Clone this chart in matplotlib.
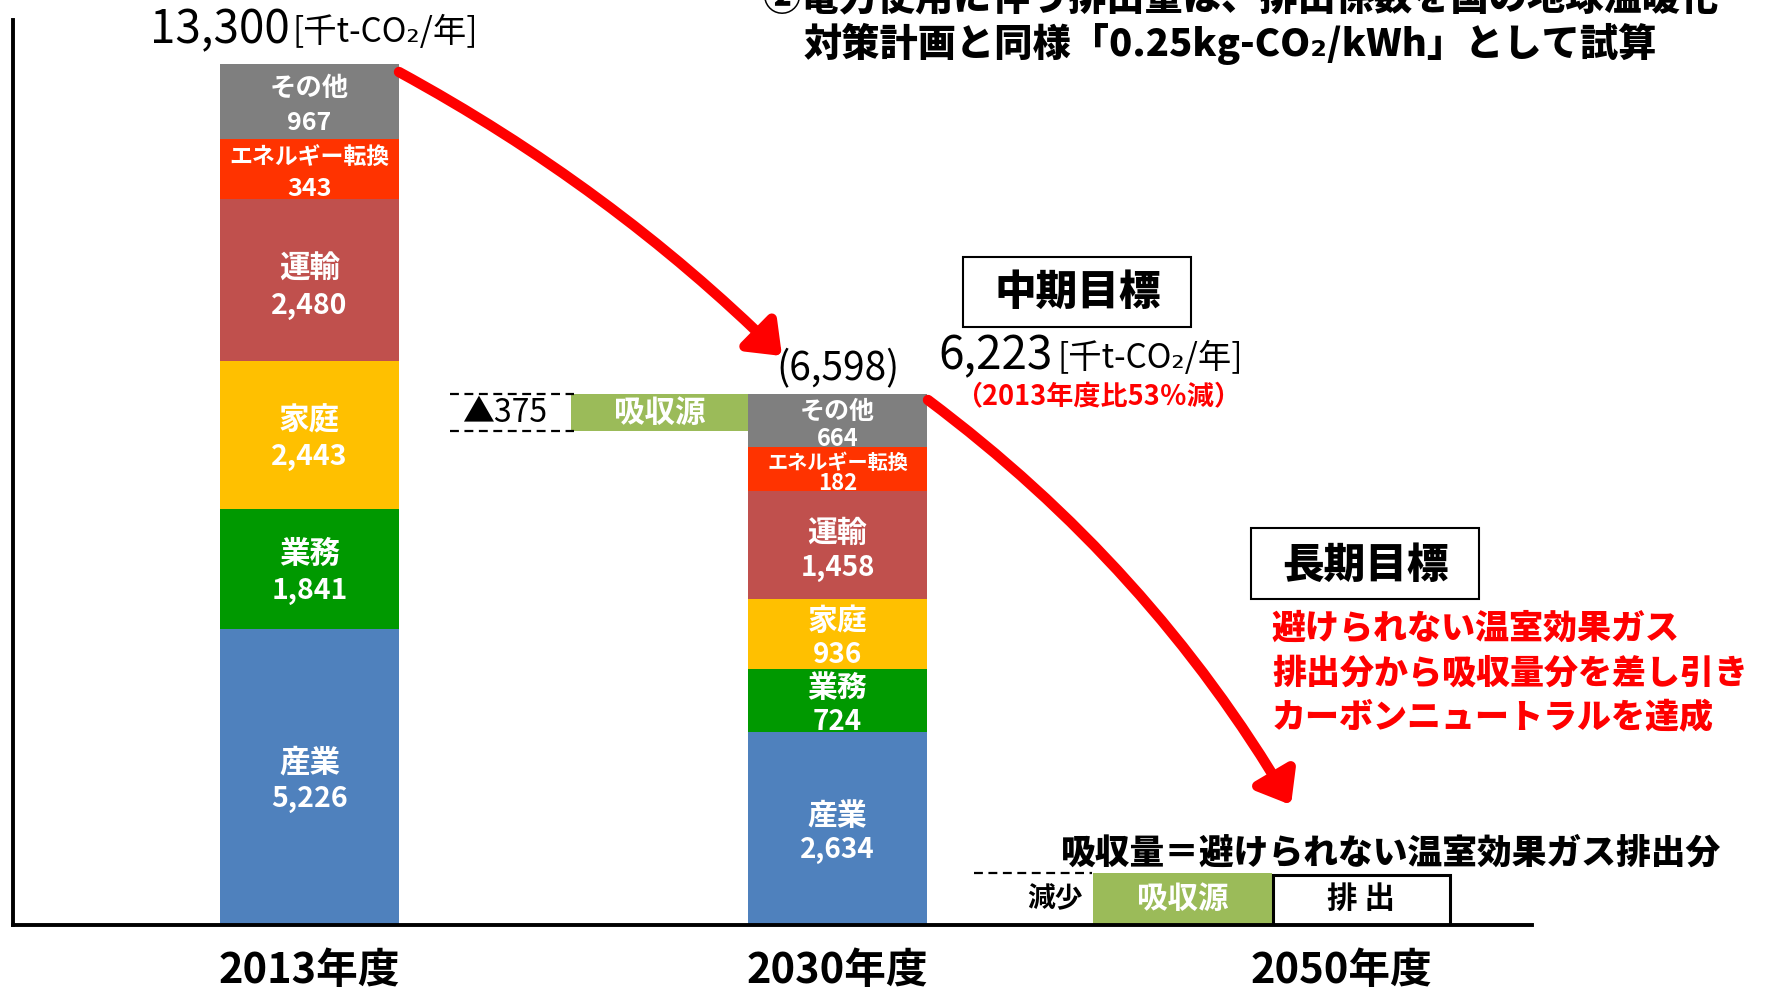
import matplotlib
matplotlib.use("Agg")
import matplotlib.pyplot as plt
from matplotlib.patches import Rectangle, FancyArrowPatch, ArrowStyle
from matplotlib.transforms import Affine2D

plt.rcParams["font.family"] = ["Noto Sans CJK JP", "DejaVu Sans"]

# --- data -------------------------------------------------------------
sectors = ["産業", "業務", "家庭", "運輸", "エネルギー転換", "その他"]
sector_colors = ["#4F81BD", "#009900", "#FFC000", "#C0504D", "#FF3300", "#7F7F7F"]
years = ["2013年度", "2030年度", "2050年度"]

values_2013 = [5226, 1841, 2443, 2480, 343, 967]
values_2030 = [2634, 724, 936, 1458, 182, 664]
# the original is a schematic: segment heights as drawn there (not to scale)
drawn_2013 = [296, 120, 148, 162, 60, 75]
drawn_2030 = [193, 63, 70, 108, 44, 53]

total_2013 = 13300
gross_2030 = 6598
absorb_2030 = 375
net_2030 = 6223
cut_pct = 53
drawn_absorb_2030 = 37
drawn_2050 = 52

# --- figure / helpers -------------------------------------------------
W, H = 1771, 989
fig = plt.figure(figsize=(W / 100, H / 100), dpi=100)
# pixel coordinates of the picture, origin top-left
px = Affine2D().scale(1 / W, -1 / H).translate(0, 1) + fig.transFigure


def ptext(x, y, s, **kw):
    kw.setdefault("ha", "center")
    kw.setdefault("va", "center")
    fig.text(x, y, s, transform=px, **kw)


ax_l, ax_r, ax_t, ax_b = 13, 1532, 20, 925
ax = fig.add_axes([ax_l / W, 1 - ax_b / H, (ax_r - ax_l) / W, (ax_b - ax_t) / H])
unit, x0 = 528, 309.5
ax.set_xlim((ax_l - x0) / unit, (ax_r - x0) / unit)
ax.set_ylim(0, ax_b - ax_t)
for s in ["top", "right"]:
    ax.spines[s].set_visible(False)
for s in ["left", "bottom"]:
    ax.spines[s].set_linewidth(2.8)
ax.set_yticks([])
ax.set_xticks([0, 1, 1.955])
ax.set_xticklabels(years, fontsize=30, fontweight="bold")
ax.tick_params(axis="x", length=0, pad=18)

bw = 0.339

# label styles per segment: (name size, value size, name dy, value dy) in px
style_2013 = [(22, 20.5, 15, -22), (22, 20.5, 15, -22), (22, 20.5, 15, -22),
              (22, 20.5, 11, -26), (16.5, 18, 12, -20), (19, 18, 13, -21)]
style_2030 = [(21.5, 20, 13, -22), (21.5, 20, 13, -21), (21.5, 20, 13, -21),
              (21.5, 20, 12, -23), (14.5, 16, 7, -14), (18, 17, 9, -18)]


def stacked(xi, drawn, vals, styles):
    bottom = 0
    for name, h, v, c, st in zip(sectors, drawn, vals, sector_colors, styles):
        ax.bar(xi, h, bw, bottom=bottom, color=c, linewidth=0, zorder=2)
        mid = bottom + h / 2
        ax.annotate(name, (xi, mid), xytext=(0, st[2]), textcoords="offset pixels",
                    ha="center", va="center", color="white", fontsize=st[0],
                    fontweight="bold", zorder=3)
        ax.annotate(f"{v:,}", (xi, mid), xytext=(0, st[3]), textcoords="offset pixels",
                    ha="center", va="center", color="white", fontsize=st[1],
                    fontweight="bold", zorder=3)
        bottom += h
    return bottom


top_2013 = stacked(0, drawn_2013, values_2013, style_2013)
top_2030 = stacked(1, drawn_2030, values_2030, style_2030)

# absorption between the bars
x_abs, w_abs = 0.663, 0.335
ax.bar(x_abs, drawn_absorb_2030, w_abs, bottom=top_2030 - drawn_absorb_2030,
       color="#9BBB59", linewidth=0, zorder=2)
ax.text(x_abs, top_2030 - drawn_absorb_2030 / 2, "吸収源", ha="center", va="center",
        color="white", fontsize=22, fontweight="bold", zorder=3)
ax.hlines([top_2030, top_2030 - drawn_absorb_2030], 0.266, 0.50, colors="black",
          linestyles=(0, (4, 2.5)), linewidth=1.6)
ax.text(0.37, top_2030 - drawn_absorb_2030 / 2, f"▲{absorb_2030}", ha="center",
        va="center", fontsize=23)
ax.annotate(f"({gross_2030:,})", (1, top_2030), xytext=(0, 25), textcoords="offset pixels",
            ha="center", va="center", fontsize=28)

# 2050
ax.bar(1.653, drawn_2050, 0.339, color="#9BBB59", linewidth=0, zorder=2)
ax.bar(1.992, drawn_2050 - 2, 0.335, color="white", edgecolor="black", linewidth=2.2, zorder=2)
ax.text(1.653, drawn_2050 / 2, "吸収源", ha="center", va="center", color="white",
        fontsize=22, fontweight="bold", zorder=3)
ax.text(1.992, drawn_2050 / 2, "排 出", ha="center", va="center", fontsize=22,
        fontweight="bold", zorder=3)
ax.hlines(drawn_2050, 1.258, 1.482, colors="black", linestyles=(0, (4, 2.5)), linewidth=1.6)
ax.text(1.411, drawn_2050 / 2, "減少", ha="center", va="center", fontsize=20, fontweight="bold")

# --- annotations ------------------------------------------------------
ptext(762, -2, "②電力使用に伴う排出量は、排出係数を国の地球温暖化", ha="left",
      fontsize=27.5, fontweight="heavy")
ptext(804, 44, "対策計画と同様「0.25kg-CO₂/kWh」として試算", ha="left",
      fontsize=27.5, fontweight="heavy")

ptext(150, 30, f"{total_2013:,}", ha="left", fontsize=33)
ptext(293, 32, "[千t-CO₂/年]", ha="left", fontsize=24)

fig.add_artist(Rectangle((963, 257), 228, 70, transform=px, facecolor="white",
                         edgecolor="black", linewidth=1.5))
ptext(1078, 293, "中期目標", fontsize=30, fontweight="heavy")
ptext(938, 356, f"{net_2030:,}", ha="left", fontsize=33)
ptext(1058, 359, "[千t-CO₂/年]", ha="left", fontsize=24)
ptext(1098, 397, f"（2013年度比{cut_pct}％減）", fontsize=19.5, fontweight="bold",
      color="#FF0000")

fig.add_artist(Rectangle((1251, 528), 228, 71, transform=px, facecolor="white",
                         edgecolor="black", linewidth=1.5))
ptext(1365, 566, "長期目標", fontsize=30, fontweight="heavy")
for i, line in enumerate(["避けられない温室効果ガス", "排出分から吸収量分を差し引き",
                          "カーボンニュートラルを達成"]):
    ptext(1272, 628 + 45 * i, line, ha="left", fontsize=24.5, fontweight="heavy",
          color="#FF0000")

ptext(1061, 853, "吸収量＝避けられない温室効果ガス排出分", ha="left", fontsize=25,
      fontweight="heavy")

head = ArrowStyle("-|>", head_length=0.9, head_width=0.7)
for a, b, rad in [((399, 72), (782, 356), -0.07), ((928, 400), (1291, 805), -0.1)]:
    arr = FancyArrowPatch(a, b, transform=px, connectionstyle=f"arc3,rad={rad}",
                          arrowstyle=head, mutation_scale=20, color="#FF0000",
                          linewidth=7.5, shrinkA=0, shrinkB=0, zorder=5)
    fig.add_artist(arr)

fig.savefig("out.png", dpi=100)
